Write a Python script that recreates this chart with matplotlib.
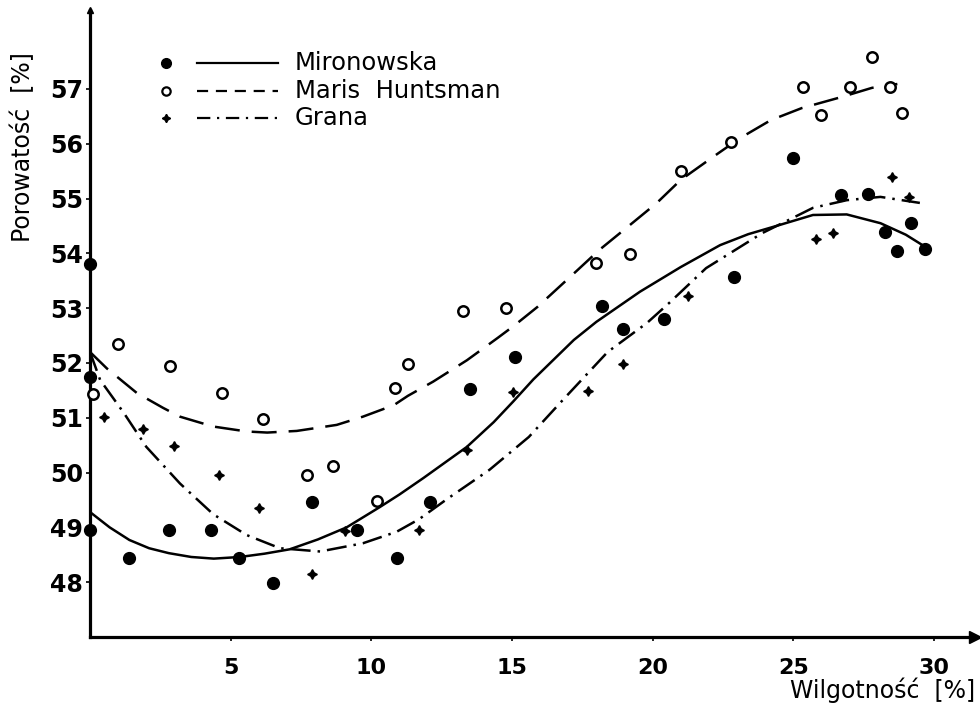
import matplotlib
matplotlib.use("Agg")
import matplotlib.pyplot as plt

# ---------------- data ----------------
series_names = ["Mironowska", "Maris  Huntsman", "Grana"]

x_ticks = [5, 10, 15, 20, 25, 30]
y_ticks = [48, 49, 50, 51, 52, 53, 54, 55, 56, 57]

miron_x = [0, 0, 0, 1.4, 2.8, 4.3, 5.3, 6.5, 7.9, 9.5, 10.9, 12.1, 13.5, 15.1,
           18.2, 18.95, 20.4, 22.9, 25.0, 26.7, 27.65, 28.25, 28.7, 29.2, 29.7]
miron_y = [53.8, 51.75, 48.95, 48.45, 48.95, 48.95, 48.45, 47.98, 49.46, 48.95,
           48.44, 49.46, 51.53, 52.1, 53.04, 52.62, 52.8, 53.57, 55.74, 55.07,
           55.08, 54.39, 54.04, 54.55, 54.08]

maris_x = [0.1, 1.0, 2.85, 4.7, 6.15, 7.7, 8.65, 10.2, 10.85, 11.3, 13.25, 14.8,
           18.0, 19.2, 21.0, 22.8, 25.35, 26.0, 27.0, 27.8, 28.45, 28.85]
maris_y = [51.43, 52.35, 51.95, 51.45, 50.98, 49.96, 50.12, 49.48, 51.54, 51.98,
           52.95, 53.0, 53.82, 53.99, 55.5, 56.04, 57.04, 56.53, 57.04, 57.58,
           57.04, 56.56]

grana_x = [0.5, 1.9, 3.0, 4.6, 6.0, 7.9, 9.05, 11.7, 13.4, 15.05, 17.7, 18.95,
           21.25, 25.8, 26.4, 28.5, 29.1]
grana_y = [51.02, 50.8, 50.49, 49.96, 49.35, 48.15, 48.93, 48.95, 50.41, 51.47,
           51.49, 51.98, 53.22, 54.26, 54.37, 55.39, 55.03]

# fitted curves as drawn in the picture
miron_cx = [0, 0.7, 1.4, 2.1, 2.8, 3.6, 4.4, 5.33, 6.2, 7.1, 8.1, 9.12, 10.3, 11.0,
            11.85, 13.4, 14.35, 15.05, 15.76, 17.2, 18.0, 19.55, 21.0, 22.4, 23.4,
            24.4, 25.7, 26.9, 28.1, 29.0, 29.75]
miron_cy = [49.28, 49.0, 48.77, 48.62, 48.53, 48.46, 48.43, 48.46, 48.52, 48.6,
            48.78, 49.0, 49.37, 49.6, 49.9, 50.47, 50.92, 51.3, 51.7, 52.42, 52.75,
            53.3, 53.75, 54.15, 54.35, 54.5, 54.7, 54.71, 54.55, 54.34, 54.1]

maris_cx = [0, 0.6, 1.67, 2.6, 3.2, 4.38, 5.57, 6.3, 7.35, 8.77, 9.7, 10.8,
            11.3, 12.2, 13.4, 14.5, 15.1, 15.9, 16.6, 17.3, 18.1, 19.2, 20.15,
            21.0, 22.15, 23.1, 24.2, 25.3, 26.7, 27.8, 28.7]
maris_cy = [52.2, 51.9, 51.45, 51.18, 51.02, 50.84, 50.75, 50.73, 50.76, 50.87,
            51.02, 51.23, 51.4, 51.66, 52.05, 52.46, 52.69, 53.02, 53.35, 53.68,
            54.06, 54.52, 54.92, 55.34, 55.76, 56.1, 56.43, 56.65, 56.85, 57.02,
            57.09]

grana_cx = [0, 0.36, 1.2, 2.0, 3.2, 4.38, 5.57, 6.75, 8.18, 9.7, 10.9, 11.7,
            12.7, 14.2, 15.6, 16.8, 18.4, 19.8, 20.6, 21.9, 23.9, 25.7, 26.9,
            28.1, 29.5]
grana_cy = [52.2, 51.69, 51.09, 50.47, 49.8, 49.24, 48.86, 48.62, 48.56, 48.71,
            48.92, 49.15, 49.52, 50.05, 50.65, 51.32, 52.2, 52.73, 53.1, 53.73,
            54.37, 54.83, 54.97, 55.03, 54.92]

x_label = "Wilgotność  [%]"
y_label = "Porowatość  [%]"

# ---------------- styling ----------------
plt.rcParams['font.family'] = ['DejaVu Sans']
W, H = 980, 711
fig = plt.figure(figsize=(W / 100, H / 100), dpi=100)
L, R, B, T = 90, 975, 637, 10
ax = fig.add_axes([L / W, (H - B) / H, (R - L) / W, (B - T) / H])
ax.set_xlim(0, 31.46)
ax.set_ylim(47, 58.44)

for s in ("top", "right"):
    ax.spines[s].set_visible(False)
for s in ("left", "bottom"):
    ax.spines[s].set_linewidth(2.3)
    ax.spines[s].set_color("black")

ax.set_xticks(x_ticks)
ax.set_yticks(y_ticks)
ax.set_xticklabels([str(v) for v in x_ticks], fontsize=16, fontweight="bold")
ax.set_yticklabels([str(v) for v in y_ticks], fontsize=17, fontweight="bold")
ax.tick_params(axis="x", length=3, width=1.2, pad=12, direction="out")
ax.tick_params(axis="y", length=3, width=1.2, pad=2, direction="out")

# axis arrow ends
ax.plot(1, 0, marker=">", color="black", markersize=8, transform=ax.transAxes, clip_on=False)
ax.plot(0, 1, marker="^", color="black", markersize=5, transform=ax.transAxes, clip_on=False)

lw = 1.8
dash_style = (10, 4.8)
dashdot_style = (8, 2.8, 1, 2.8)

ax.plot(miron_cx, miron_cy, color="black", lw=lw, solid_capstyle="round",
        solid_joinstyle="round")
ax.plot(maris_cx, maris_cy, color="black", lw=lw, dashes=dash_style)
ax.plot(grana_cx, grana_cy, color="black", lw=lw, dashes=dashdot_style)

ax.plot(miron_x, miron_y, "o", color="black", markersize=8.5, clip_on=False, zorder=5)
ax.plot(maris_x, maris_y, "o", markerfacecolor="white", markeredgecolor="black",
        markeredgewidth=1.8, markersize=7.5, linestyle="none", clip_on=False, zorder=5)
ax.plot(grana_x, grana_y, marker=(4, 1, 0), color="black", markersize=7,
        linestyle="none", clip_on=False, zorder=5)

# legend drawn by hand (marker, line sample, text)
def ax_xy(px, py):
    return (px - L) / (R - L), (B - py) / (B - T)

rows_py = [63, 91, 118]
styles = [dict(marker="o", mfc="black", mec="black", ms=7, mew=1.0, dashes=None),
          dict(marker="o", mfc="white", mec="black", ms=6, mew=1.6, dashes=(5, 3.5)),
          dict(marker=(4, 1, 0), mfc="black", mec="black", ms=6, mew=1.0, dashes=(6, 3, 1, 3))]
for name, py, st in zip(series_names, rows_py, styles):
    mx, my = ax_xy(166, py)
    ax.plot([mx], [my], marker=st["marker"], markerfacecolor=st["mfc"],
            markeredgecolor=st["mec"], markersize=st["ms"], markeredgewidth=st["mew"],
            transform=ax.transAxes, clip_on=False, linestyle="none")
    x0, yy = ax_xy(197, py)
    x1, _ = ax_xy(278, py)
    kw = dict(color="black", lw=1.6, transform=ax.transAxes, clip_on=False)
    if st["dashes"] is not None:
        kw["dashes"] = st["dashes"]
    ax.plot([x0, x1], [yy, yy], **kw)
    tx, ty = ax_xy(295, py)
    ax.text(tx, ty, name, transform=ax.transAxes, fontsize=17.5, va="center", ha="left")

fig.text(975 / W, 1 - 690 / H, x_label, fontsize=17, ha="right", va="center")
fig.text(23 / W, 1 - 147 / H, y_label, fontsize=17, rotation=90, ha="center", va="center")

fig.savefig("out.png", dpi=100)
